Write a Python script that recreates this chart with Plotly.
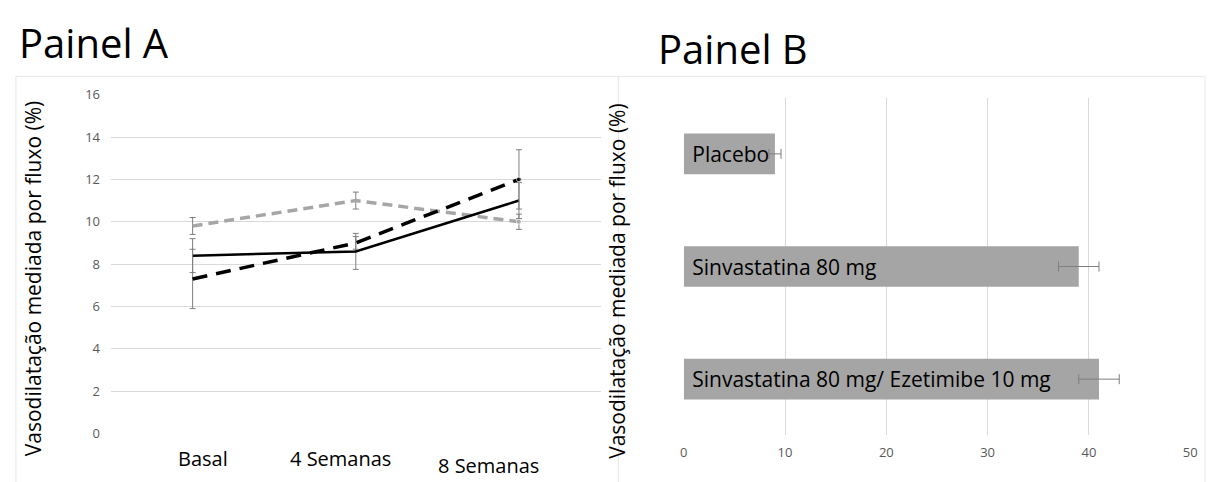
import plotly.graph_objects as go

W, H = 1214, 482

# ---------------- data ----------------
timepoints = ["Basal", "4 Semanas", "8 Semanas"]
solid_vals = [8.4, 8.6, 11.0]
solid_err = [0.8, 0.85, 0.85]
dash_black_vals = [7.3, 9.0, 12.0]
dash_black_err = [1.4, 0.3, 1.4]
dash_gray_vals = [9.8, 11.0, 10.0]
dash_gray_err = [0.4, 0.4, 0.36]

groups = ["Placebo", "Sinvastatina 80 mg", "Sinvastatina 80 mg/ Ezetimibe 10 mg"]
group_vals = [9, 39, 41]
group_err = [0.6, 2.0, 2.0]

y_ticks_a = [0, 2, 4, 6, 8, 10, 12, 14, 16]
x_ticks_b = [0, 10, 20, 30, 40, 50]

y_title = "Vasodilatação mediada por fluxo (%)"

# ---------------- style ----------------
FONT = "Open Sans"
GRID = "#d9d9d9"
TICK = "#595959"
ERR = "#7f7f7f"
label_xshift = [10, -15, -30]
label_ypx = [467, 467, 474]


def px_x(p):
    return p / W


def px_y(p):
    return 1 - p / H


fig = go.Figure()

err_style = dict(type="data", color=ERR, thickness=1, width=3)

fig.add_trace(go.Scatter(
    x=timepoints, y=dash_gray_vals, mode="lines+markers",
    line=dict(color="#a6a6a6", width=3.5, dash="10px,6px"),
    marker=dict(size=[0, 0, 5], color="#a6a6a6"),
    error_y=dict(array=dash_gray_err, **err_style),
    xaxis="x", yaxis="y", showlegend=False))
fig.add_trace(go.Scatter(
    x=timepoints, y=solid_vals, mode="lines",
    line=dict(color="#000000", width=2.5),
    error_y=dict(array=solid_err, **err_style),
    xaxis="x", yaxis="y", showlegend=False))
fig.add_trace(go.Scatter(
    x=timepoints, y=dash_black_vals, mode="lines+markers",
    line=dict(color="#000000", width=3.5, dash="15px,9px"),
    marker=dict(size=[0, 0, 5], color="#000000"),
    error_y=dict(array=dash_black_err, **err_style),
    xaxis="x", yaxis="y", showlegend=False))

fig.add_trace(go.Bar(
    y=groups, x=group_vals, orientation="h", width=0.36,
    marker=dict(color="#a5a5a5", line=dict(width=0)),
    text=groups, texttemplate="\u00a0%{text}",
    textposition="inside", insidetextanchor="start",
    constraintext="none",
    textfont=dict(family=FONT, size=21, color="#000000"),
    error_x=dict(type="data", array=group_err, color=ERR, thickness=1, width=5),
    xaxis="x2", yaxis="y2", showlegend=False))

annotations = []
for i, t in enumerate(timepoints):
    annotations.append(dict(
        x=t, y=px_y(label_ypx[i]), xref="x", yref="paper", text=t, showarrow=False,
        xshift=label_xshift[i], yanchor="middle", xanchor="center",
        font=dict(family=FONT, size=20, color="#000000")))

annotations += [
    dict(x=px_x(13), y=px_y(35), xref="paper", yref="paper", text="Painel A",
         showarrow=False, xanchor="left", yanchor="middle",
         font=dict(family=FONT, size=40, color="#000000")),
    dict(x=px_x(658), y=px_y(41), xref="paper", yref="paper", text="Painel B",
         showarrow=False, xanchor="left", yanchor="middle",
         font=dict(family=FONT, size=40, color="#000000")),
    dict(x=px_x(29), y=px_y(280), xref="paper", yref="paper", text=y_title,
         showarrow=False, textangle=-90, xanchor="center", yanchor="middle",
         font=dict(family=FONT, size=21, color="#000000")),
    dict(x=px_x(619), y=px_y(282), xref="paper", yref="paper", text=y_title,
         showarrow=False, textangle=-90, xanchor="center", yanchor="middle",
         font=dict(family=FONT, size=21, color="#000000")),
]

shapes = [
    dict(type="rect", xref="paper", yref="paper",
         x0=px_x(12), x1=px_x(620), y0=-0.05, y1=px_y(70),
         line=dict(color="#e8e8e8", width=1), layer="below"),
    dict(type="rect", xref="paper", yref="paper",
         x0=px_x(620), x1=px_x(1212), y0=-0.05, y1=px_y(70),
         line=dict(color="#e8e8e8", width=1), layer="below"),
]

fig.update_layout(
    width=W, height=H,
    margin=dict(l=0, r=0, t=0, b=0),
    paper_bgcolor="white", plot_bgcolor="white",
    font=dict(family=FONT),
    showlegend=False,
    xaxis=dict(domain=[px_x(108), px_x(602)], range=[-0.5, 2.5],
               type="category", categoryarray=timepoints,
               showticklabels=False, showgrid=False, zeroline=False,
               showline=False, ticks="", anchor="y"),
    yaxis=dict(domain=[px_y(441), px_y(89)], range=[0, 16],
               tickvals=y_ticks_a, showgrid=True, gridcolor=GRID, gridwidth=1,
               zeroline=False, showline=False, ticks="",
               ticklabelstandoff=10,
               tickfont=dict(family=FONT, size=13, color=TICK), anchor="x"),
    xaxis2=dict(domain=[px_x(686), px_x(1197)], range=[0, 50],
                tickvals=x_ticks_b, showgrid=True, gridcolor=GRID, gridwidth=1,
                zeroline=False, showline=False, ticks="",
                ticklabelstandoff=8,
                tickfont=dict(family=FONT, size=13, color=TICK), anchor="y2"),
    yaxis2=dict(domain=[px_y(443), px_y(92)], range=[2.5, -0.5],
                type="category", categoryarray=groups,
                showticklabels=False, showgrid=False, zeroline=False,
                showline=False, ticks="", anchor="x2"),
    annotations=annotations,
    shapes=shapes,
    bargap=0.64,
)

fig.write_html("out.html")
